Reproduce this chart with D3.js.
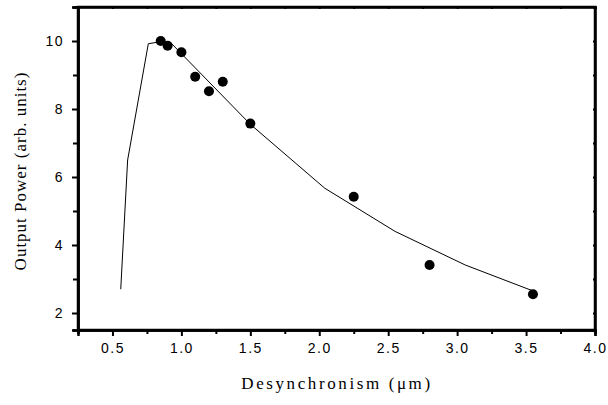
<!DOCTYPE html>
<html>
<head>
<meta charset="utf-8">
<script src="https://cdn.jsdelivr.net/npm/d3@7"></script>
<style>
  body { margin: 0; background: #fff; }
  svg { display: block; }
  .tick text { font-family: "Liberation Sans", Arial, sans-serif; font-size: 14px; letter-spacing: 1.5px; fill: #000; }
  .title { font-family: "Liberation Serif", "Times New Roman", serif; font-size: 17px; fill: #000; }
</style>
</head>
<body>
<div id="chart"></div>
<script>
// measured points
const measX = [0.85, 0.9, 1.0, 1.1, 1.2, 1.3, 1.5, 2.25, 2.8, 3.55];
const measY = [10.0, 9.86, 9.67, 8.95, 8.52, 8.8, 7.57, 5.42, 3.41, 2.55];

// calculated curve
const fitX = [0.56, 0.61, 0.76, 0.85, 0.92, 1.5, 2.04, 2.55, 3.06, 3.55];
const fitY = [2.7, 6.5, 9.92, 9.98, 9.96, 7.55, 5.67, 4.4, 3.41, 2.65];

const xTicks = [0.5, 1.0, 1.5, 2.0, 2.5, 3.0, 3.5, 4.0];
const xMinor = [0.25, 0.75, 1.25, 1.75, 2.25, 2.75, 3.25, 3.75];
const yTicks = [2, 4, 6, 8, 10];
const yMinor = [3, 5, 7, 9, 11];

const W = 608, H = 405;
const margin = { top: 7, right: 13, bottom: 75, left: 78 };
const width = W - margin.left - margin.right;
const height = H - margin.top - margin.bottom;

const svg = d3.select('#chart').append('svg')
  .attr('width', W)
  .attr('height', H);

const g = svg.append('g')
  .attr('transform', `translate(${margin.left}, ${margin.top})`);

const x = d3.scaleLinear().domain([0.25, 4.0]).range([0, width]);
const y = d3.scaleLinear().domain([1.5, 11]).range([height, 0]);

// minor ticks first, then labelled majors
g.append('g')
  .attr('transform', `translate(0, ${height})`)
  .call(d3.axisBottom(x).tickValues(xMinor).tickSize(4).tickFormat(''));
g.append('g')
  .attr('class', 'axis axis--x')
  .attr('transform', `translate(0, ${height})`)
  .call(d3.axisBottom(x).tickValues(xTicks).tickSize(6).tickPadding(7).tickFormat(d3.format('.1f')));

g.append('g')
  .call(d3.axisLeft(y).tickValues(yMinor).tickSize(5).tickFormat(''));
g.append('g')
  .attr('class', 'axis axis--y')
  .call(d3.axisLeft(y).tickValues(yTicks).tickSize(6).tickPadding(8));

// mirrored axes (top / right), small inward ticks
g.append('g')
  .call(d3.axisTop(x).tickValues(xTicks.concat(xMinor)).tickSize(-2).tickFormat(''));
g.append('g')
  .attr('transform', `translate(${width}, 0)`)
  .call(d3.axisRight(y).tickValues(yTicks.concat(yMinor)).tickSize(-2).tickFormat(''));

g.selectAll('.domain').attr('stroke', '#000').attr('stroke-width', 2.5);
g.selectAll('.tick line').attr('stroke', '#000').attr('stroke-width', 2);

// frame (fix corners)
g.append('rect')
  .attr('width', width)
  .attr('height', height)
  .attr('fill', 'none')
  .attr('stroke', '#000')
  .attr('stroke-width', 2.5);

const fit = fitX.map((d, i) => ({ x: d, y: fitY[i] }));
const meas = measX.map((d, i) => ({ x: d, y: measY[i] }));

const line = d3.line()
  .x(d => x(d.x))
  .y(d => y(d.y));

g.append('path')
  .datum(fit)
  .attr('fill', 'none')
  .attr('stroke', '#000')
  .attr('stroke-width', 1)
  .attr('d', line);

g.append('g')
  .selectAll('circle')
  .data(meas)
  .enter()
  .append('circle')
  .attr('r', 5)
  .attr('cx', d => x(d.x))
  .attr('cy', d => y(d.y))
  .attr('fill', '#000');

svg.append('text')
  .attr('class', 'title')
  .attr('x', 337)
  .attr('y', 389)
  .attr('text-anchor', 'middle')
  .style('letter-spacing', '2.6px')
  .text('Desynchronism (\u03bcm)');

svg.append('text')
  .attr('class', 'title')
  .attr('transform', 'translate(26, 171) rotate(-90)')
  .attr('text-anchor', 'middle')
  .style('letter-spacing', '1px')
  .text('Output Power (arb. units)');
</script>
</body>
</html>
